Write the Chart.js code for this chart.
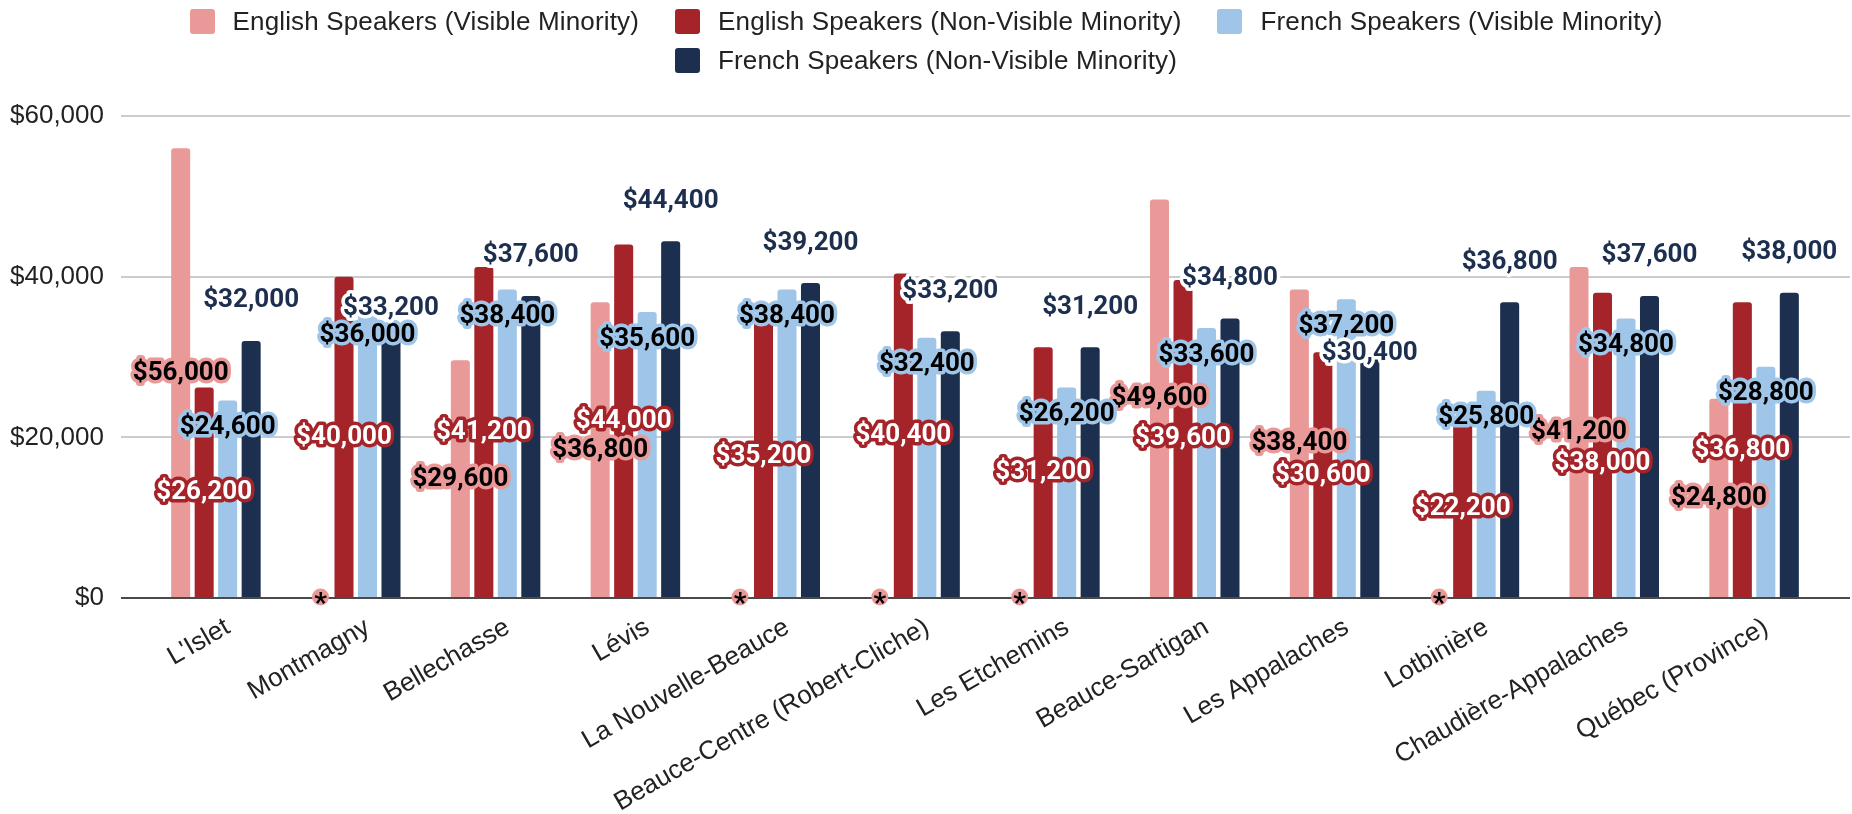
<!DOCTYPE html>
<html>
<head>
<meta charset="utf-8">
<script src="https://cdn.jsdelivr.net/npm/chart.js@4.4.0/dist/chart.umd.min.js"></script>
<style>
  html, body { margin: 0; padding: 0; background: #fff; }
  #wrap { position: relative; width: 1852px; height: 814px; }
  #chart { position: absolute; left: 0; top: 0; }
  #legend {
    position: absolute; left: 0; top: 2px; width: 1852px; z-index: 2;
    display: flex; flex-wrap: wrap; justify-content: center; column-gap: 36px;
    font-family: "Liberation Sans", Arial, sans-serif; font-size: 26px; color: #222;
    line-height: 39px; letter-spacing: 0.15px;
  }
  .item { display: flex; align-items: center; white-space: nowrap; }
  .box { width: 25px; height: 25px; border-radius: 3px; margin-right: 18px; }
</style>
</head>
<body>
<div id="wrap">
  <div id="legend"></div>
  <canvas id="chart" width="1852" height="814"></canvas>
</div>
<script>
// Data
const categories = ["L'Islet", 'Montmagny', 'Bellechasse', 'Lévis', 'La Nouvelle-Beauce',
  'Beauce-Centre (Robert-Cliche)', 'Les Etchemins', 'Beauce-Sartigan', 'Les Appalaches',
  'Lotbinière', 'Chaudière-Appalaches', 'Québec (Province)'];
const englishVisible = [56000, null, 29600, 36800, null, null, null, 49600, 38400, null, 41200, 24800];
const englishNonVisible = [26200, 40000, 41200, 44000, 35200, 40400, 31200, 39600, 30600, 22200, 38000, 36800];
const frenchVisible = [24600, 36000, 38400, 35600, 38400, 32400, 26200, 33600, 37200, 25800, 34800, 28800];
const frenchNonVisible = [32000, 33200, 37600, 44400, 39200, 33200, 31200, 34800, 30400, 36800, 37600, 38000];
const seriesNames = ['English Speakers (Visible Minority)', 'English Speakers (Non-Visible Minority)',
  'French Speakers (Visible Minority)', 'French Speakers (Non-Visible Minority)'];
const yTicks = [0, 20000, 40000, 60000];
const yTickLabels = ['$0', '$20,000', '$40,000', '$60,000'];

const colors = ['#ea9999', '#a4242a', '#9fc5e8', '#1d2f4f'];
// label look per series: text colour, halo colour, placement
const labelStyles = [
  { text: '#000000', halo: '#ea9999', place: 'center' },
  { text: '#ffffff', halo: '#a4242a', place: 'center' },
  { text: '#000000', halo: '#9fc5e8', place: 'insideEnd' },
  { text: '#1d2f4f', halo: '#ffffff', place: 'outsideEnd' }
];
// a few labels were pushed down by the original layout (dataset-index: px)
const labelNudge = { '3-1': 17, '3-8': 40, '1-10': 18 };

// Legend (html)
const legend = document.getElementById('legend');
seriesNames.forEach((name, i) => {
  const item = document.createElement('div');
  item.className = 'item';
  item.innerHTML = `<span class="box" style="background:${colors[i]}"></span>${name}`;
  legend.appendChild(item);
});

const fmt = v => '$' + v.toLocaleString('en-US');

const gridPlugin = {
  id: 'grid',
  beforeDatasetsDraw(chart) {
    const ctx = chart.ctx;
    const y = chart.scales.y;
    ctx.save();
    ctx.strokeStyle = '#cccccc';
    ctx.lineWidth = 2;
    yTicks.forEach(v => {
      if (v === 0) return;
      const py = Math.round(y.getPixelForValue(v));
      ctx.beginPath();
      ctx.moveTo(121, py);
      ctx.lineTo(1850, py);
      ctx.stroke();
    });
    ctx.restore();
  },
  afterDatasetsDraw(chart) {
    const ctx = chart.ctx;
    const y = chart.scales.y;
    const base = Math.round(y.getPixelForValue(0));
    ctx.save();
    ctx.strokeStyle = '#4a4a4a';
    ctx.lineWidth = 2;
    ctx.beginPath();
    ctx.moveTo(121, base);
    ctx.lineTo(1850, base);
    ctx.stroke();

    ctx.textAlign = 'center';
    ctx.lineJoin = 'round';
    chart.data.datasets.forEach((ds, d) => {
      const meta = chart.getDatasetMeta(d);
      const st = labelStyles[d];
      meta.data.forEach((bar, i) => {
        const v = ds.data[i];
        if (v === null) {
          // missing value marker
          ctx.fillStyle = st.halo;
          ctx.beginPath();
          ctx.arc(bar.x, base - 1, 8.5, 0, Math.PI * 2);
          ctx.fill();
          ctx.fillStyle = '#000';
          ctx.font = 'bold 28px Roboto, "Liberation Sans", sans-serif';
          ctx.textBaseline = 'alphabetic';
          ctx.fillText('*', bar.x, base + 14);
          return;
        }
        const top = y.getPixelForValue(v);
        let cy;
        if (st.place === 'center') cy = y.getPixelForValue(v / 2);
        else if (st.place === 'insideEnd') cy = top + 27;
        else cy = top - 40;
        cy += labelNudge[d + '-' + i] || 0;
        ctx.font = 'bold 26px Roboto, "Liberation Sans", sans-serif';
        ctx.textBaseline = 'middle';
        ctx.lineWidth = 7;
        ctx.strokeStyle = st.halo;
        ctx.strokeText(fmt(v), bar.x, cy);
        ctx.fillStyle = st.text;
        ctx.fillText(fmt(v), bar.x, cy);
      });
    });
    ctx.restore();
  }
};

Chart.defaults.font.family = '"Liberation Sans", Arial, sans-serif';
Chart.defaults.color = '#222';

const ctx = document.getElementById('chart').getContext('2d');
new Chart(ctx, {
  type: 'bar',
  data: {
    labels: categories,
    datasets: [englishVisible, englishNonVisible, frenchVisible, frenchNonVisible].map((data, i) => ({
      label: seriesNames[i],
      data: data,
      backgroundColor: colors[i],
      borderRadius: { topLeft: 3, topRight: 3 },
      borderSkipped: 'start',
      categoryPercentage: 0.672,
      barPercentage: 0.81
    }))
  },
  options: {
    responsive: false,
    animation: false,
    layout: { padding: { top: 116, right: 28, bottom: 0, left: 0 } },
    plugins: {
      legend: { display: false },
      tooltip: { enabled: false }
    },
    scales: {
      x: {
        grid: { display: false, drawTicks: false },
        border: { display: false },
        ticks: {
          font: { size: 26 },
          color: '#222',
          minRotation: 30,
          maxRotation: 30,
          autoSkip: false,
          padding: 14,
          labelOffset: 12
        },
        afterFit(scale) { scale.height = 216; }
      },
      y: {
        min: 0,
        max: 60000,
        grid: { display: false, drawTicks: false },
        border: { display: false },
        afterBuildTicks(scale) { scale.ticks = yTicks.map(v => ({ value: v })); },
        ticks: {
          font: { size: 26 },
          color: '#222',
          padding: 42,
          callback: v => yTickLabels[yTicks.indexOf(v)]
        },
        afterFit(scale) { scale.width = 146; }
      }
    }
  },
  plugins: [gridPlugin]
});
</script>
</body>
</html>
